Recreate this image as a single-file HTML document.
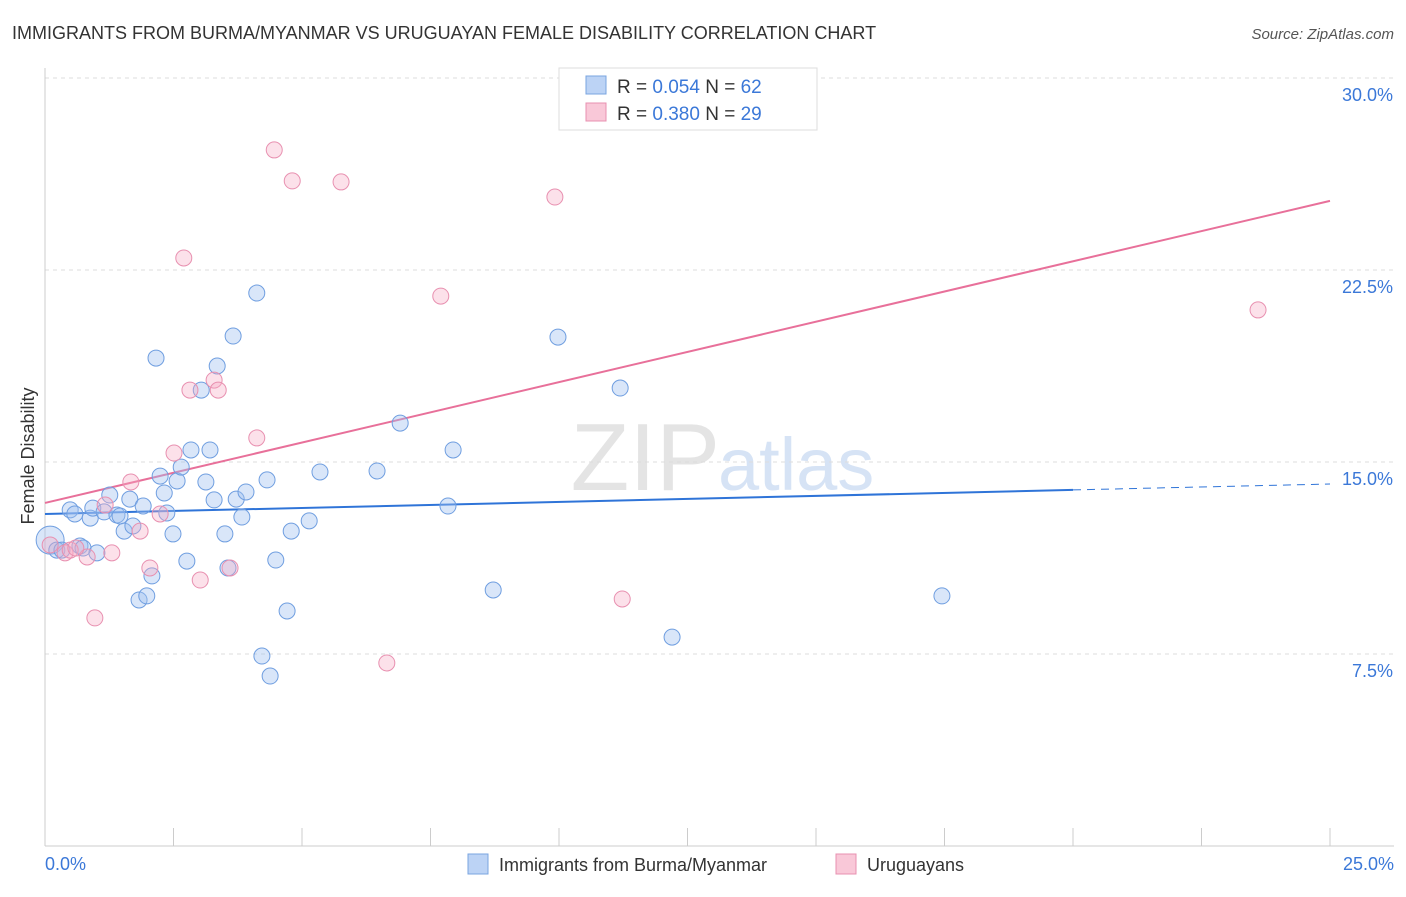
<!DOCTYPE html>
<html><head><meta charset="utf-8"><style>
body{margin:0;background:#fff;font-family:"Liberation Sans",sans-serif;}
svg text{font-family:"Liberation Sans",sans-serif;}
</style></head><body>
<svg id="chart" width="1406" height="892" xmlns="http://www.w3.org/2000/svg">
<text x="12" y="39" font-size="18" fill="#333">IMMIGRANTS FROM BURMA/MYANMAR VS URUGUAYAN FEMALE DISABILITY CORRELATION CHART</text>
<text x="1394" y="39" font-size="15" fill="#555" font-style="italic" text-anchor="end">Source: ZipAtlas.com</text>
<text x="720" y="490" font-size="96" fill="#e4e4e4" text-anchor="end" font-family="Liberation Serif">ZIP</text>
<text x="718" y="490" font-size="74" fill="#d6e3f5">atlas</text>
<g id="grid"></g><g id="axes"></g><g id="lines"></g><g id="pts"></g>
<text transform="translate(34,456) rotate(-90)" font-size="18" fill="#333" text-anchor="middle">Female Disability</text>
<text x="45" y="870" font-size="18" fill="#3b78d8">0.0%</text>
<text x="1394" y="870" font-size="18" fill="#3b78d8" text-anchor="end">25.0%</text>
<g>
<rect x="559" y="68" width="258" height="62" fill="#fff" stroke="#ddd"/>
<rect x="586" y="76" width="20" height="18" fill="#bcd3f5" stroke="#7aa5e0"/>
<rect x="586" y="103" width="20" height="18" fill="#f9c8d8" stroke="#e890b0"/>
<text x="617" y="93" font-size="19" fill="#333">R = <tspan fill="#3b78d8">0.054</tspan>   N = <tspan fill="#3b78d8">62</tspan></text>
<text x="617" y="120" font-size="19" fill="#333">R = <tspan fill="#3b78d8">0.380</tspan>   N = <tspan fill="#3b78d8">29</tspan></text>
</g>
<g>
<rect x="468" y="854" width="20" height="20" fill="#bcd3f5" stroke="#7aa5e0"/>
<text x="499" y="871" font-size="18" fill="#333">Immigrants from Burma/Myanmar</text>
<rect x="836" y="854" width="20" height="20" fill="#f9c8d8" stroke="#e890b0"/>
<text x="867" y="871" font-size="18" fill="#333">Uruguayans</text>
</g>
</svg>
<script>
const blueX=[0.10,0.23,0.33,0.49,0.58,0.68,0.74,0.88,0.93,1.01,1.15,1.26,1.40,1.46,1.54,1.65,1.71,1.83,1.91,1.98,2.08,2.16,2.24,2.32,2.37,2.49,2.57,2.65,2.76,2.84,3.04,3.13,3.21,3.29,3.35,3.50,3.56,3.66,3.72,3.83,3.91,4.12,4.22,4.32,4.38,4.49,4.71,4.79,5.14,5.35,6.46,6.91,7.84,7.94,8.72,9.98,11.19,12.20,17.45];
const blueY=[11.95,11.56,11.56,13.13,12.97,11.72,11.64,12.81,13.20,11.45,13.05,13.71,12.93,12.89,12.30,13.55,12.50,9.61,13.28,9.77,10.55,19.06,14.45,13.79,13.01,12.19,14.26,14.80,11.13,15.47,17.81,14.22,15.47,13.52,18.75,12.19,10.86,19.92,13.55,12.85,13.83,21.60,7.42,14.30,6.64,11.17,9.18,12.30,12.70,14.61,14.65,16.52,13.28,15.47,10.00,19.88,17.89,8.16,9.77];
const pinkX=[0.10,0.39,0.49,0.82,0.97,1.30,1.67,1.85,2.04,2.24,2.51,2.70,2.82,3.02,3.29,3.37,3.60,4.12,4.46,4.81,5.76,6.65,7.70,9.92,11.23,23.60,0.60,1.17];
const pinkY=[11.76,11.45,11.56,11.29,8.91,11.45,14.22,12.30,10.86,12.97,15.35,22.97,17.81,10.39,18.20,17.81,10.86,15.94,27.19,25.98,25.94,7.15,21.48,25.35,9.65,20.94,11.64,13.32];
const blueTrend=[12.97,13.91,14.14]; // at x=0,20,25
const pinkTrend=[13.40,25.20]; // at x=0,25
const yTicks=[30,22.5,15,7.5];
const yTickLabels=["30.0%","22.5%","15.0%","7.5%"];
const xTicks=[0,2.5,5,7.5,10,12.5,15,17.5,20,22.5,25];

const NS="http://www.w3.org/2000/svg";
const sx=v=>45+v*51.4, sy=v=>846-v*25.6;
function mk(tag,attrs,parent){const e=document.createElementNS(NS,tag);for(const k in attrs)e.setAttribute(k,attrs[k]);document.getElementById(parent).appendChild(e);return e;}
yTicks.forEach((t,i)=>{
 const g=mk('line',{x1:45,x2:1394,y1:sy(t),y2:sy(t),stroke:'#ddd','stroke-dasharray':'4,4'},'grid');
 
 
 const tx=mk('text',{x:1393,y:sy(t)+23,'font-size':18,fill:'#3b78d8','text-anchor':'end'},'grid');
 tx.textContent=yTickLabels[i];
 
 
});
const ya=mk('line',{x1:45,x2:45,y1:68,y2:846,stroke:'#ccc'},'axes');


const xa=mk('line',{x1:45,x2:1394,y1:846,y2:846,stroke:'#ccc'},'axes');


xTicks.forEach(t=>{
 const l=mk('line',{x1:sx(t),x2:sx(t),y1:828,y2:846,stroke:'#ccc'},'axes');
 
 
});
const bl=mk('line',{x1:sx(0),y1:sy(blueTrend[0]),x2:sx(20),y2:sy(blueTrend[1]),stroke:'#2f74d8','stroke-width':2},'lines');


const bd=mk('line',{x1:sx(20),y1:sy(blueTrend[1]),x2:sx(25),y2:sy(blueTrend[2]),stroke:'#2f74d8','stroke-width':1,'stroke-dasharray':'8,6'},'lines');


const pl=mk('line',{x1:sx(0),y1:sy(pinkTrend[0]),x2:sx(25),y2:sy(pinkTrend[1]),stroke:'#e8709a','stroke-width':2},'lines');


blueX.forEach((x,i)=>{
 const c=mk('circle',{cx:sx(x),cy:sy(blueY[i]),r:i===0?14:8,fill:'rgba(160,192,240,0.4)',stroke:'#6f9ee0','stroke-width':1},'pts');
 
 
});
pinkX.forEach((x,i)=>{
 const c=mk('circle',{cx:sx(x),cy:sy(pinkY[i]),r:8,fill:'rgba(245,170,196,0.35)',stroke:'#e890b0','stroke-width':1},'pts');
 
 
});
</script>
</body></html>
